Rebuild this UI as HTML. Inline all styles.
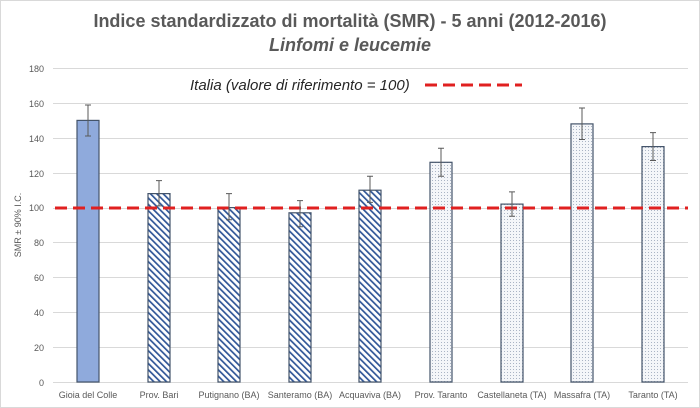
<!DOCTYPE html>
<html><head><meta charset="utf-8"><style>
body{margin:0;background:#fff}
svg{display:block;font-family:"Liberation Sans",sans-serif}
</style></head><body>
<svg width="700" height="408" viewBox="0 0 700 408">
<defs>
<pattern id="hatch" width="4.5" height="4.5" patternUnits="userSpaceOnUse" patternTransform="rotate(-45)">
<rect width="4.5" height="4.5" fill="#fff"/><rect width="1.7" height="4.5" fill="#2f5597"/>
</pattern>
<pattern id="dots" width="3" height="3" patternUnits="userSpaceOnUse">
<rect width="3" height="3" fill="#f4f6f9"/><rect width="1" height="1" fill="#aab4c4"/>
</pattern>
</defs>
<rect x="0.5" y="0.5" width="699" height="407" fill="#fff" stroke="#d9d9d9"/>
<text x="350" y="27" text-anchor="middle" font-size="18" font-weight="bold" fill="#595959">Indice standardizzato di mortalità (SMR) - 5 anni (2012-2016)</text>
<text x="350" y="51" text-anchor="middle" font-size="18" font-weight="bold" font-style="italic" fill="#595959">Linfomi e leucemie</text>
<g stroke="#d9d9d9" stroke-width="1">
<line x1="53" x2="688" y1="68.5" y2="68.5"/><line x1="53" x2="688" y1="103.5" y2="103.5"/>
<line x1="53" x2="688" y1="138.5" y2="138.5"/><line x1="53" x2="688" y1="173.5" y2="173.5"/>
<line x1="53" x2="688" y1="208.5" y2="208.5"/><line x1="53" x2="688" y1="242.5" y2="242.5"/>
<line x1="53" x2="688" y1="277.5" y2="277.5"/><line x1="53" x2="688" y1="312.5" y2="312.5"/>
<line x1="53" x2="688" y1="347.5" y2="347.5"/><line x1="53" x2="688" y1="382.5" y2="382.5"/>
</g>
<g font-size="9" fill="#595959" text-anchor="end">
<text x="44" y="72">180</text><text x="44" y="107">160</text><text x="44" y="142">140</text>
<text x="44" y="177">120</text><text x="44" y="211">100</text><text x="44" y="246">80</text>
<text x="44" y="281">60</text><text x="44" y="316">40</text><text x="44" y="351">20</text><text x="44" y="386">0</text>
</g>
<text transform="translate(21,225) rotate(-90)" font-size="9" fill="#595959" text-anchor="middle">SMR ± 90% I.C.</text>
<g stroke="#44546a" stroke-width="1.2">
<rect x="77" y="120.4" width="22" height="261.6" fill="#8faadc"/>
<rect x="148" y="193.6" width="22" height="188.4" fill="url(#hatch)"/>
<rect x="218" y="207.6" width="22" height="174.4" fill="url(#hatch)"/>
<rect x="289" y="212.8" width="22" height="169.2" fill="url(#hatch)"/>
<rect x="359" y="190.2" width="22" height="191.8" fill="url(#hatch)"/>
<rect x="430" y="162.3" width="22" height="219.7" fill="url(#dots)"/>
<rect x="501" y="204.1" width="22" height="177.9" fill="url(#dots)"/>
<rect x="571" y="123.9" width="22" height="258.1" fill="url(#dots)"/>
<rect x="642" y="146.6" width="22" height="235.4" fill="url(#dots)"/>
</g>
<line x1="55" x2="688" y1="208" y2="208" stroke="#e02020" stroke-width="3" stroke-dasharray="12,6"/>
<g stroke="#595959" stroke-width="1">
<path d="M88 105V136M85 105h6M85 136h6"/>
<path d="M159 180.6V205.9M156 180.6h6M156 205.9h6"/>
<path d="M229 193.6V219.8M226 193.6h6M226 219.8h6"/>
<path d="M300 200.6V226.8M297 200.6h6M297 226.8h6"/>
<path d="M370 176.2V202.4M367 176.2h6M367 202.4h6"/>
<path d="M441 148.3V176.2M438 148.3h6M438 176.2h6"/>
<path d="M512 191.9V216.3M509 191.9h6M509 216.3h6"/>
<path d="M582 108V139.5M579 108h6M579 139.5h6"/>
<path d="M653 132.6V160.5M650 132.6h6M650 160.5h6"/>
</g>
<text x="190" y="90" font-size="15" font-style="italic" fill="#262626">Italia (valore di riferimento = 100)</text>
<line x1="425" x2="522" y1="85" y2="85" stroke="#e02020" stroke-width="3" stroke-dasharray="12,6"/>
<g font-size="9" fill="#595959" text-anchor="middle">
<text x="88" y="398">Gioia del Colle</text><text x="159" y="398">Prov. Bari</text>
<text x="229" y="398">Putignano (BA)</text><text x="300" y="398">Santeramo (BA)</text>
<text x="370" y="398">Acquaviva (BA)</text><text x="441" y="398">Prov. Taranto</text>
<text x="512" y="398">Castellaneta (TA)</text><text x="582" y="398">Massafra (TA)</text>
<text x="653" y="398">Taranto (TA)</text>
</g>
</svg>
</body></html>
